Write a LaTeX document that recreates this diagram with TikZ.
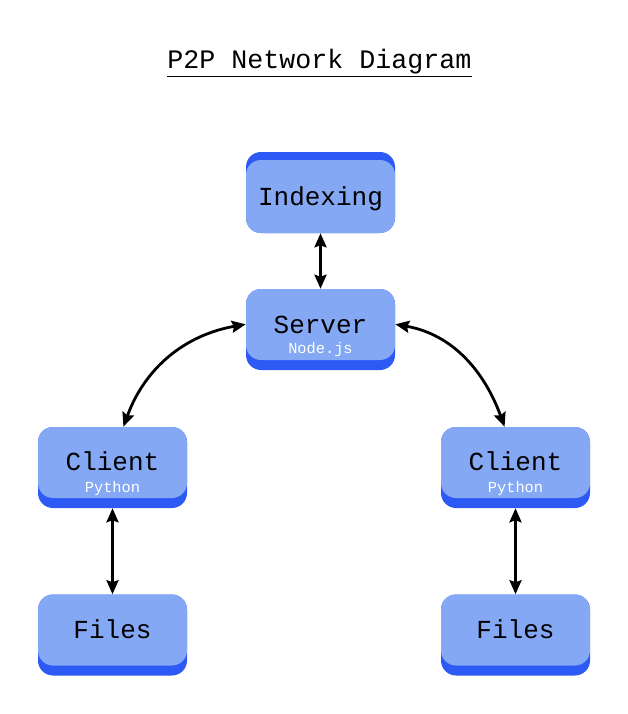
\documentclass[tikz,border=0pt]{standalone}
\usepackage{fontspec}
\setmonofont{Liberation Mono}
\usetikzlibrary{arrows.meta}
\definecolor{boxblue}{HTML}{84A8F4}
\definecolor{bandblue}{HTML}{2D5AF5}
\begin{document}
\begin{tikzpicture}[
        x = 0.75pt, y = -0.75pt,
        >= {Stealth[length = 10.5pt, width = 9pt, inset = 1.5pt]},
        box/.style = {fill = bandblue, rounded corners = 11.25pt, inner sep = 0pt,
                      minimum width = 111.75pt, minimum height = 60.75pt},
        bandbelow/.style = {path picture = {\fill[boxblue, rounded corners = 11.25pt]
            (path picture bounding box.north west) rectangle ([yshift = 7.5pt]path picture bounding box.south east);}},
        bandabove/.style = {path picture = {\fill[boxblue, rounded corners = 11.25pt]
            ([yshift = -6pt]path picture bounding box.north west) rectangle (path picture bounding box.south east);}},
        maintext/.style = {font = \ttfamily\fontsize{19.5}{22}\selectfont, text = black},
        subtext/.style = {font = \ttfamily\fontsize{11.5}{13}\selectfont, text = white},
        link/.style = {<->, line width = 2.1pt}
      ]
      \useasboundingbox (0, 0) rectangle (628, 714);
      % title
      \node[font = \ttfamily\fontsize{20}{24}\selectfont] (title) at (319.5, 63) {\underline{P2P Network Diagram}};
      % boxes
      \node[box, bandabove] (idx)     at (320.5, 192.5) {};
      \node[box, bandbelow] (server)  at (320.5, 329.5) {};
      \node[box, bandbelow] (clientL) at (112.5, 467.5) {};
      \node[box, bandbelow] (clientR) at (515.5, 467.5) {};
      \node[box, bandbelow] (filesL)  at (112.5, 635)   {};
      \node[box, bandbelow] (filesR)  at (515.5, 635)   {};
      % labels
      \node[maintext] (idxT)     at ([yshift = -4.5pt]idx.center)    {Indexing};
      \node[maintext] (serverT)  at ([yshift = 3.5pt]server.center)  {Server};
      \node[subtext]  (serverS)  at ([yshift = 15.5pt]server.south)  {Node.js};
      \node[maintext] (clientLT) at ([yshift = 5pt]clientL.center)   {Client};
      \node[subtext]  (clientLS) at ([yshift = 15pt]clientL.south)   {Python};
      \node[maintext] (clientRT) at ([yshift = 5pt]clientR.center)   {Client};
      \node[subtext]  (clientRS) at ([yshift = 15pt]clientR.south)   {Python};
      \node[maintext] (filesLT)  at ([yshift = 4pt]filesL.center)    {Files};
      \node[maintext] (filesRT)  at ([yshift = 4pt]filesR.center)    {Files};
      % connections
      \draw[link] (idx)         -- (server);
      \draw[link] (server.176)  to[out = 190, in = 70]  (clientL.75);
      \draw[link] (server.4)    to[out = -10, in = 110] (clientR.105);
      \draw[link] (clientL)     -- (filesL);
      \draw[link] (clientR)     -- (filesR);
    \end{tikzpicture}
\end{document}
